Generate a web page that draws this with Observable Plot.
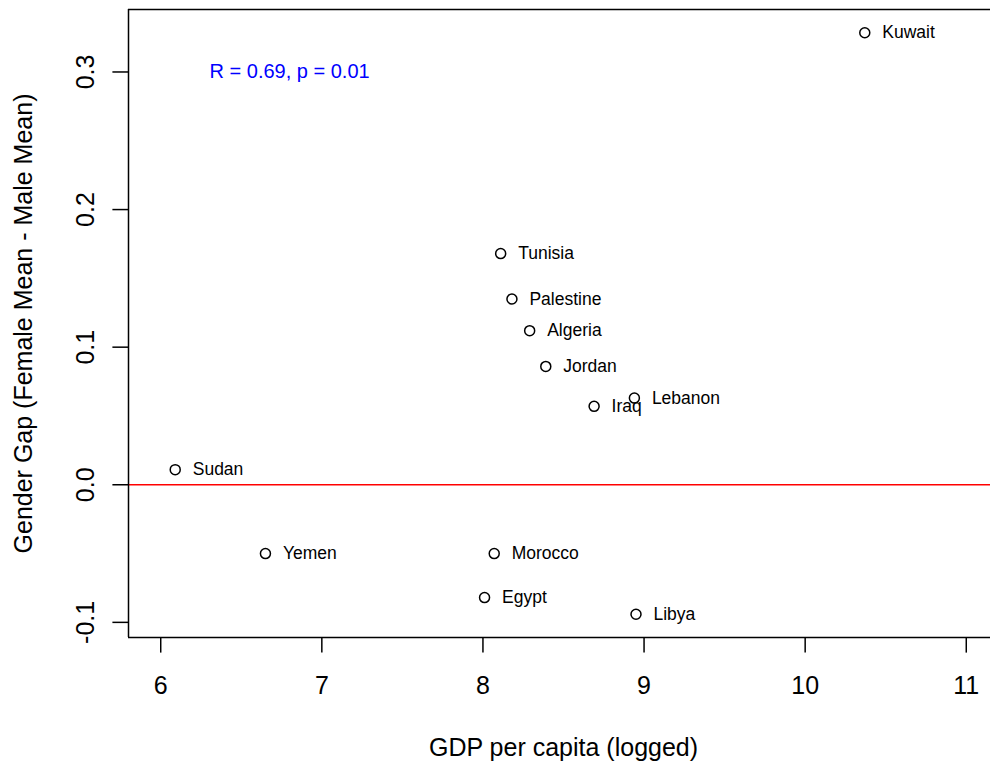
<!DOCTYPE html>
<html>
<head>
<meta charset="utf-8">
<script src="https://cdn.jsdelivr.net/npm/d3@7"></script>
<script src="https://cdn.jsdelivr.net/npm/@observablehq/plot@0.6"></script>
<style>
  html, body { margin: 0; padding: 0; overflow: hidden; background: white; }
  #chart svg { display: block; }
</style>
</head>
<body>
<div id="chart"></div>
<script>
// Data
const countries = ["Kuwait", "Tunisia", "Palestine", "Algeria", "Jordan", "Iraq", "Lebanon", "Sudan", "Yemen", "Morocco", "Egypt", "Libya"];
const gdpLogged = [10.37, 8.11, 8.18, 8.29, 8.39, 8.69, 8.94, 6.09, 6.65, 8.07, 8.01, 8.95];
const genderGap = [0.3285, 0.168, 0.135, 0.112, 0.086, 0.057, 0.063, 0.011, -0.050, -0.050, -0.082, -0.0941];

const xTicks = [6, 7, 8, 9, 10, 11];
const xTickLabels = ["6", "7", "8", "9", "10", "11"];
const yTicks = [-0.1, 0.0, 0.1, 0.2, 0.3];
const yTickLabels = ["-0.1", "0.0", "0.1", "0.2", "0.3"];

const xTitle = "GDP per capita (logged)";
const yTitle = "Gender Gap (Female Mean - Male Mean)";
const corrLabel = "R = 0.69, p = 0.01";
const corrPos = {x: 6.8, y: 0.3};
const xLimits = [5.8, 11.2];

const rows = countries.map((c, i) => ({country: c, gdp: gdpLogged[i], gap: genderGap[i]}));

// R-style y limits: data range expanded by 4%
const yMin = d3.min(genderGap), yMax = d3.max(genderGap);
const yPad = (yMax - yMin) * 0.04;
const yLimits = [yMin - yPad, yMax + yPad];

const font = "Liberation Sans, Arial, Helvetica, sans-serif";

const chart = Plot.plot({
  width: 990,
  height: 764,
  marginLeft: 128,
  marginRight: 0,
  marginTop: 9,
  marginBottom: 127,
  style: {fontFamily: font, background: "white", color: "black"},
  // the plotting region of the original extends past the right edge of the picture
  x: {domain: xLimits, range: [128, 998]},
  y: {domain: yLimits},
  marks: [
    Plot.ruleY([0], {stroke: "red", strokeWidth: 1.5}),
    Plot.axisX({ticks: xTicks, tickSize: 15.6, tickFormat: () => "", label: null, strokeWidth: 1.5}),
    Plot.axisY({ticks: yTicks, tickSize: 15.6, tickFormat: () => "", label: null, strokeWidth: 1.5}),
    Plot.text(xTicks, {x: d => d, text: (d, i) => xTickLabels[i], frameAnchor: "bottom", dy: 39, lineAnchor: "top", textAnchor: "middle", fontSize: 25, fill: "black"}),
    Plot.text(yTicks, {y: d => d, text: (d, i) => yTickLabels[i], frameAnchor: "left", dx: -35, rotate: -90, lineAnchor: "bottom", textAnchor: "middle", fontSize: 25, fill: "black"}),
    Plot.text([xTitle], {text: d => d, x: () => d3.mean(xLimits), frameAnchor: "bottom", dy: 101, lineAnchor: "top", textAnchor: "middle", fontSize: 25, fill: "black"}),
    Plot.text([yTitle], {text: d => d, frameAnchor: "left", dx: -97, rotate: -90, lineAnchor: "bottom", textAnchor: "middle", fontSize: 25, fill: "black"}),
    Plot.dot(rows, {x: "gdp", y: "gap", r: 5, stroke: "black", strokeWidth: 1.5, fill: "none"}),
    Plot.text(rows, {x: "gdp", y: "gap", text: "country", dx: 17.5, textAnchor: "start", lineAnchor: "middle", fontSize: 17.5, fill: "black"}),
    Plot.text([corrLabel], {x: () => corrPos.x, y: () => corrPos.y, text: d => d, textAnchor: "middle", lineAnchor: "middle", fontSize: 20, fill: "blue"}),
    // box: left, top and bottom sides (right side lies outside the picture)
    Plot.ruleX([xLimits[0]], {stroke: "black", strokeWidth: 1.5}),
    Plot.ruleY(yLimits, {stroke: "black", strokeWidth: 1.5})
  ]
});

document.getElementById("chart").appendChild(chart);
</script>
</body>
</html>
